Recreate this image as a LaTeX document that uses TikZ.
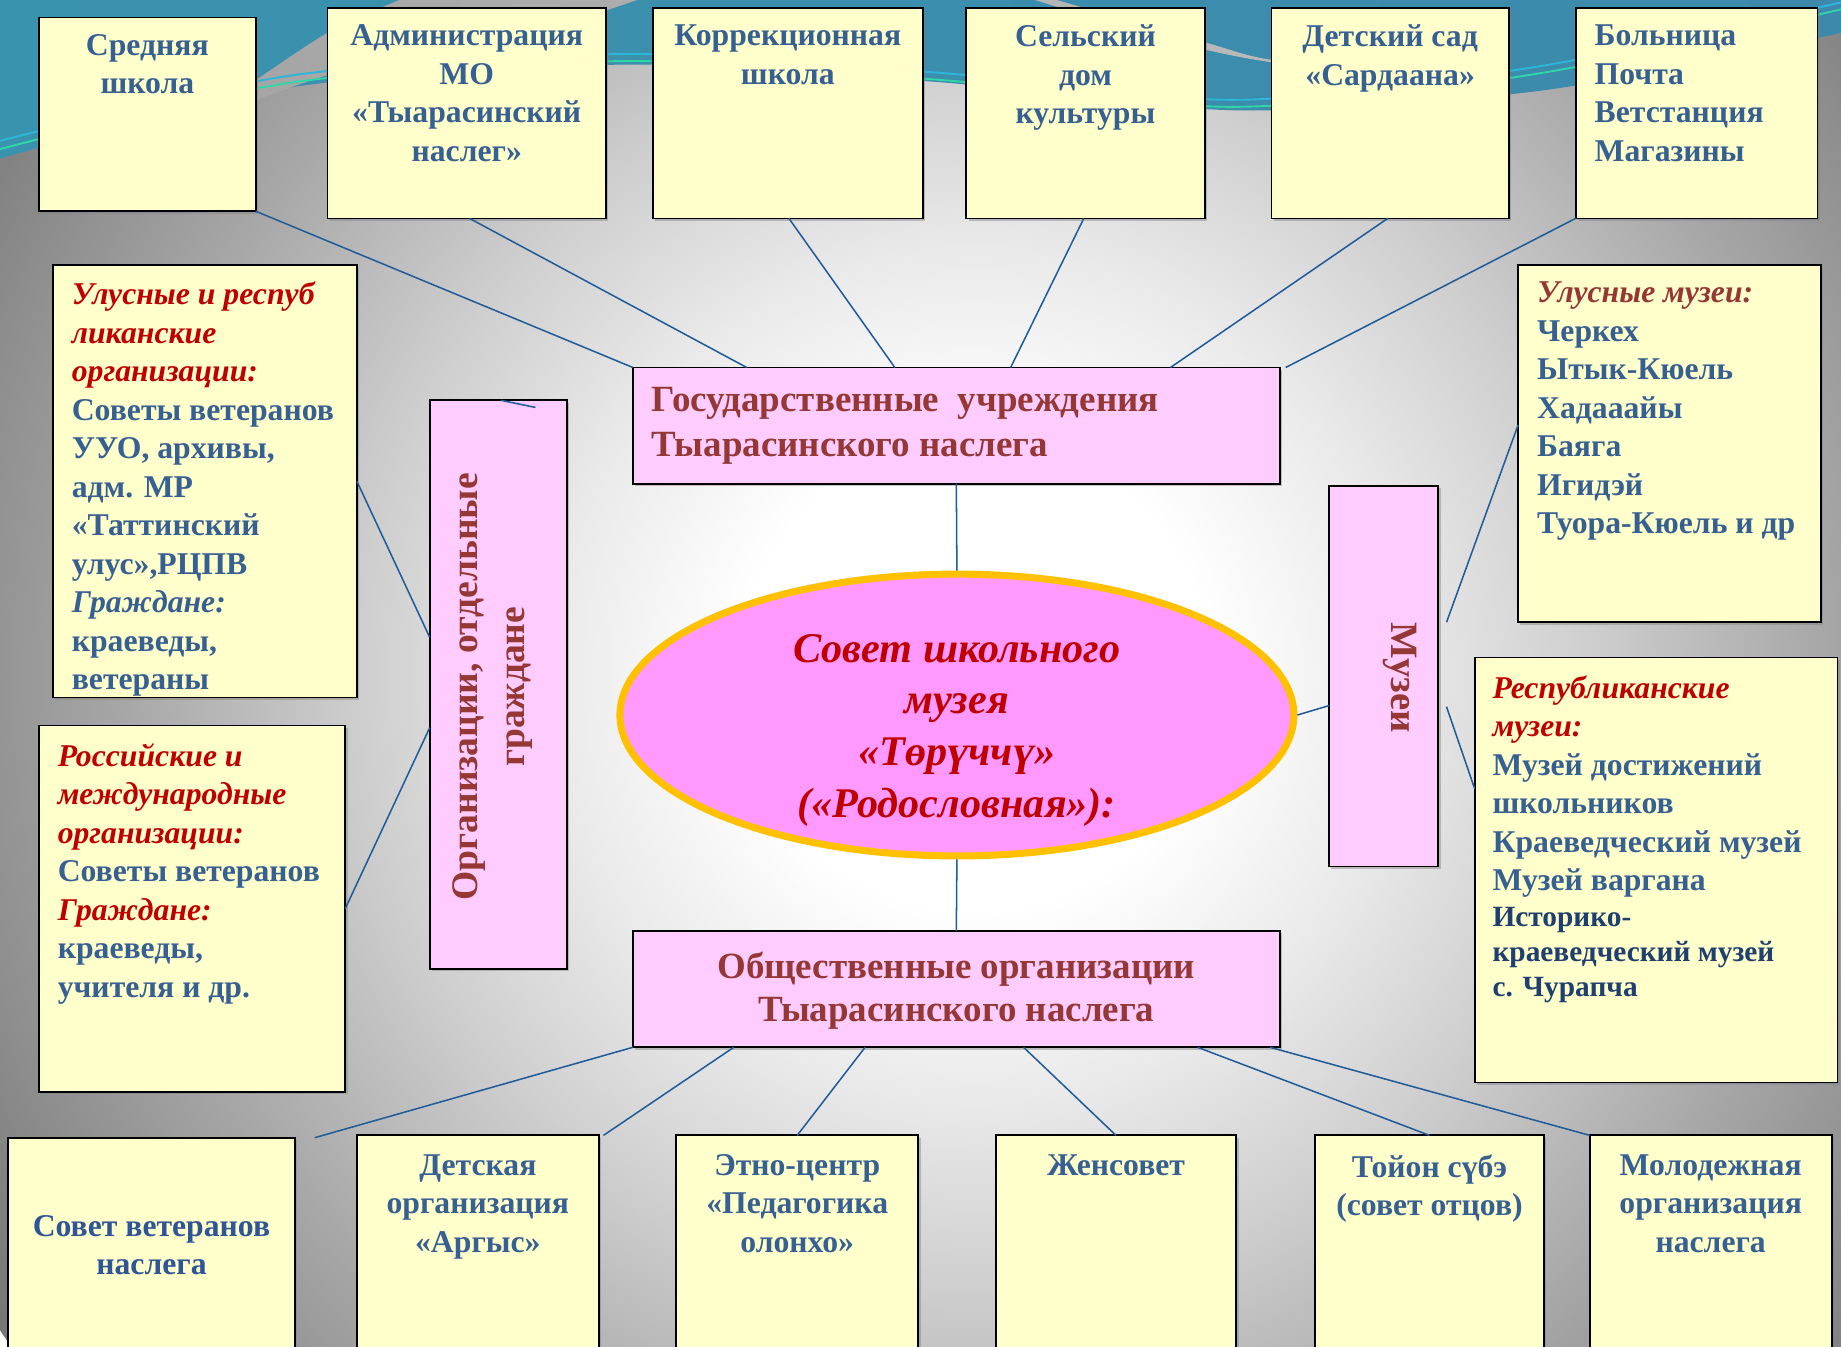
\documentclass[tikz,border=0pt]{standalone}
\usepackage{fontspec}
\setmainfont{Liberation Serif}
\usetikzlibrary{calc,shadows,shapes.geometric}
\definecolor{txtblue}{HTML}{376092}
\definecolor{txtblueb}{HTML}{2F5597}
\definecolor{navy}{HTML}{1F3F6E}
\definecolor{dred}{HTML}{953735}
\definecolor{bred}{HTML}{C00000}
\definecolor{ybox}{HTML}{FFFFCC}
\definecolor{pbox}{HTML}{FFCCFF}
\definecolor{ellfill}{HTML}{FF99FF}
\definecolor{gold}{HTML}{FFC000}
\definecolor{conn}{HTML}{1F5C99}
\definecolor{bgA}{HTML}{EAEAEA}
\definecolor{bgB}{HTML}{CFCFCF}
\definecolor{bgC}{HTML}{A8A8A8}
\definecolor{bgD}{HTML}{8C8C8C}
\definecolor{bgE}{HTML}{767676}
\definecolor{topL}{HTML}{3A93AE}
\definecolor{topM}{HTML}{66A8CE}
\definecolor{topR}{HTML}{3C89AC}
\definecolor{wedgeL}{HTML}{A4A4A4}
\definecolor{wedgeR}{HTML}{BCBCBC}
\definecolor{cyanl}{HTML}{2CB6DA}
\definecolor{greenl}{HTML}{2FD6A6}
\pgfdeclareradialshading{bgshade}{\pgfpointorigin}{color(0bp)=(white); color(5bp)=(white); color(9bp)=(bgA); color(13bp)=(bgB); color(18bp)=(bgC); color(22bp)=(bgD); color(25bp)=(bgE); color(50bp)=(bgE)}
\tikzset{
  ybx/.style={draw=black, line width=1.5pt, fill=ybox, inner sep=0pt, outer sep=0pt,
    anchor=north west, drop shadow={shadow xshift=2pt, shadow yshift=-2pt, opacity=0.45}},
  pbx/.style={ybx, fill=pbox},
  ftxt/.style={font=\fontsize{27}{32.8}\selectfont\bfseries, inner sep=0pt, text=txtblue},
  ctxt/.style={ftxt, align=center, anchor=north},
  lftxt/.style={ftxt, align=left, anchor=north west},
  ptxt/.style={font=\fontsize{31.5}{38}\selectfont\bfseries, inner sep=0pt, text=dred},
  link/.style={draw=conn, line width=1.3pt}
}
\begin{document}
\begin{tikzpicture}[x=1pt,y=-1pt]
\useasboundingbox (0,0) rectangle (1568,1147);
\clip (0,0) rectangle (1568,1147);
% background
\shade[shading=bgshade] (830,575) circle[radius=1000pt];
\shade[left color=topL, middle color=topM, right color=topR]
  (0,0) -- plot[smooth] coordinates {(0,135) (250,74) (536,55) (800,70) (1055,94) (1314,77) (1568,28)} -- (1568,0) -- cycle;
\shade[left color=wedgeL, right color=wedgeR]
  plot[smooth] coordinates {(150,112) (218,68) (279,28) (340,0)} -- (400,-40) -- (800,-40) -- (900,0)
  -- plot[smooth] coordinates {(900,0) (1026,36) (1083,51) (1200,63)}
  -- plot[smooth] coordinates {(1200,63) (1083,53) (1000,36) (920,12) (850,-10)} -- (600,-20)
  -- plot[smooth] coordinates {(600,-20) (500,14) (400,40) (279,64) (150,112)} -- cycle;
\draw[cyanl, line width=1.6pt] plot[smooth] coordinates {(0,120) (250,64) (536,46) (800,62) (1055,85) (1314,56) (1568,2)};
\draw[greenl, line width=1.6pt] plot[smooth] coordinates {(0,127) (250,70) (536,52) (800,68) (1055,91) (1314,62) (1568,8)};

% top row
\node[ybx, minimum width=185pt, minimum height=165pt] (b1) at (33,15) {};
\node[ctxt] (b1t) at ($(b1.north)+(0,14)$) {Средняя\\школа};
\node[ybx, minimum width=237pt, minimum height=179pt] (b2) at (279,7) {};
\node[ctxt] (b2t) at ($(b2.north)+(0,14)$) {Администрация\\МО\\«Тыарасинский\\наслег»};
\node[ybx, minimum width=230pt, minimum height=179pt] (b3) at (556,7) {};
\node[ctxt] (b3t) at ($(b3.north)+(0,14)$) {Коррекционная\\школа};
\node[ybx, minimum width=203pt, minimum height=179pt] (b4) at (823,7) {};
\node[ctxt] (b4t) at ($(b4.north)+(0,14)$) {Сельский\\дом\\культуры};
\node[ybx, minimum width=202pt, minimum height=179pt] (b5) at (1083,7) {};
\node[ctxt] (b5t) at ($(b5.north)+(0,14)$) {Детский сад\\«Сардаана»};
\node[ybx, minimum width=206pt, minimum height=179pt] (b6) at (1342,7) {};
\node[lftxt] (b6t) at ($(b6.north west)+(16,14)$) {Больница\\Почта\\Ветстанция\\Магазины};

% left column
\node[ybx, minimum width=259pt, minimum height=368pt] (l1) at (45,226) {};
\node[lftxt] (l1t) at ($(l1.north west)+(16,14)$) {{\color{bred}\itshape Улусные и респуб}\\{\color{bred}\itshape ликанские}\\{\color{bred}\itshape организации:}\\Советы ветеранов\\УУО, архивы,\\адм. МР\\«Таттинский\\улус»,РЦПВ\\{\itshape Граждане:}\\краеведы,\\ветераны};
\node[ybx, minimum width=261pt, minimum height=312pt] (l2) at (33,618) {};
\node[lftxt] (l2t) at ($(l2.north west)+(16,15)$) {{\color{bred}\itshape Российские и}\\{\color{bred}\itshape международные}\\{\color{bred}\itshape организации:}\\Советы ветеранов\\{\color{bred}\itshape Граждане:}\\краеведы,\\учителя и др.};
\node[pbx, minimum width=117pt, minimum height=484pt] (v1) at (366,341) {};
\node[ptxt, align=center, rotate=90, font=\fontsize{32}{40}\selectfont\bfseries] (v1t) at ($(v1.center)+(-5,2)$) {Организации, отдельные\\граждане};

% right column
\node[ybx, minimum width=258pt, minimum height=304pt] (r1) at (1293,226) {};
\node[lftxt] (r1t) at ($(r1.north west)+(16,14)$) {{\color{dred}\itshape Улусные музеи:}\\Черкех\\Ытык-Кюель\\Хадааайы\\Баяга\\Игидэй\\Туора-Кюель и др};
\node[ybx, minimum width=309pt, minimum height=362pt] (r2) at (1256,560) {};
\node[lftxt] (r2t) at ($(r2.north west)+(15,15)$) {{\color{bred}\itshape Республиканские}\\{\color{bred}\itshape музеи:}\\Музей достижений\\школьников\\Краеведческий музей\\Музей варгана\\[-2pt]{\fontsize{25}{30}\selectfont\color{navy}Историко-}\\[-3pt]{\fontsize{25}{30}\selectfont\color{navy}краеведческий музей}\\[-3pt]{\fontsize{25}{30}\selectfont\color{navy}с. Чурапча}};
\node[pbx, minimum width=93pt, minimum height=324pt] (mz) at (1132,414) {};
\node[ptxt, rotate=-90, font=\fontsize{33}{40}\selectfont\bfseries] (mzt) at (1192,577) {Музеи};

% centre
\node[pbx, minimum width=551pt, minimum height=99pt] (gov) at (539,313) {};
\node[ptxt, align=left, anchor=north west] (govt) at ($(gov.north west)+(16,17)$) {Государственные~~учреждения\\Тыарасинского наслега};
\node[draw=gold, line width=6pt, fill=ellfill, ellipse, minimum width=574pt, minimum height=240pt, inner sep=0pt] (ell) at (815,609) {};
\node[font=\fontsize{36}{44}\selectfont\bfseries\itshape, text=bred, align=center, inner sep=0pt] (ellt) at (815,622) {Совет школьного\\музея\\«Төрүччү»\\(«Родословная»):};
\node[pbx, minimum width=551pt, minimum height=99pt] (obs) at (539,793) {};
\node[ptxt, align=center, anchor=north, font=\fontsize{31.5}{36.5}\selectfont\bfseries] (obst) at ($(obs.north)+(0,18)$) {Общественные организации\\Тыарасинского наслега};

% bottom row
\node[ybx, minimum width=244pt, minimum height=200pt] (c1) at (7,969) {};
\node[ctxt, text=txtblueb] (c1t) at ($(c1.north)+(0,66)$) {Совет ветеранов\\наслега};
\node[ybx, minimum width=206pt, minimum height=200pt] (c2) at (304,967) {};
\node[ctxt] (c2t) at ($(c2.north)+(0,16)$) {Детская\\организация\\«Аргыс»};
\node[ybx, minimum width=206pt, minimum height=200pt] (c3) at (576,967) {};
\node[ctxt] (c3t) at ($(c3.north)+(0,16)$) {Этно-центр\\«Педагогика\\олонхо»};
\node[ybx, minimum width=205pt, minimum height=200pt] (c4) at (848,967) {};
\node[ctxt] (c4t) at ($(c4.north)+(0,16)$) {Женсовет};
\node[ybx, minimum width=195pt, minimum height=200pt] (c5) at (1120,967) {};
\node[ctxt] (c5t) at ($(c5.north)+(0,16)$) {Тойон сүбэ\\(совет отцов)};
\node[ybx, minimum width=206pt, minimum height=200pt] (c6) at (1354,967) {};
\node[ctxt] (c6t) at ($(c6.north)+(0,16)$) {Молодежная\\организация\\наслега};

% connectors: top row to gov
\draw[link] (b1.south east) -- (gov.north west);
\draw[link] ($(b2.south west)!0.51!(b2.south east)$) -- ($(gov.north west)!0.176!(gov.north east)$);
\draw[link] ($(b3.south west)!0.504!(b3.south east)$) -- ($(gov.north west)!0.405!(gov.north east)$);
\draw[link] ($(b4.south west)!0.493!(b4.south east)$) -- ($(gov.north west)!0.584!(gov.north east)$);
\draw[link] ($(b5.south west)!0.49!(b5.south east)$) -- ($(gov.north west)!0.831!(gov.north east)$);
\draw[link] (b6.south west) -- ([xshift=5pt]gov.north east);
% centre
\draw[link] (gov.south) -- (ell.north);
\draw[link] (ell.south) -- (obs.north);
% left
\draw[link] (l1.east) -- ($(v1.north west)!0.417!(v1.south west)$);
\draw[link] (l2.east) -- ($(v1.north west)!0.576!(v1.south west)$);
\draw[link] ($(v1.north west)!0.52!(v1.north east)$) -- ($(v1.north west)!0.77!(v1.north east)+(0,6)$);
% right
\draw[link] ($(r1.north west)!0.447!(r1.south west)$) -- ($(mz.north east)!0.358!(mz.south east)+(7,0)$);
\draw[link] ($(r2.north west)!0.309!(r2.south west)$) -- ($(mz.north east)!0.58!(mz.south east)+(7,0)$);
\draw[link] (ell.east) -- ($(mz.north west)!0.577!(mz.south west)$);
% bottom
\draw[link] (obs.south west) -- ([xshift=17pt]c1.north east);
\draw[link] ($(obs.south west)!0.156!(obs.south east)$) -- ([xshift=4pt]c2.north east);
\draw[link] ($(obs.south west)!0.359!(obs.south east)$) -- (c3.north);
\draw[link] ($(obs.south west)!0.604!(obs.south east)$) -- (c4.north);
\draw[link] ($(obs.south west)!0.873!(obs.south east)$) -- (c5.north);
\draw[link] ($(obs.south west)!0.985!(obs.south east)$) -- (c6.north west);
\end{tikzpicture}
\end{document}
